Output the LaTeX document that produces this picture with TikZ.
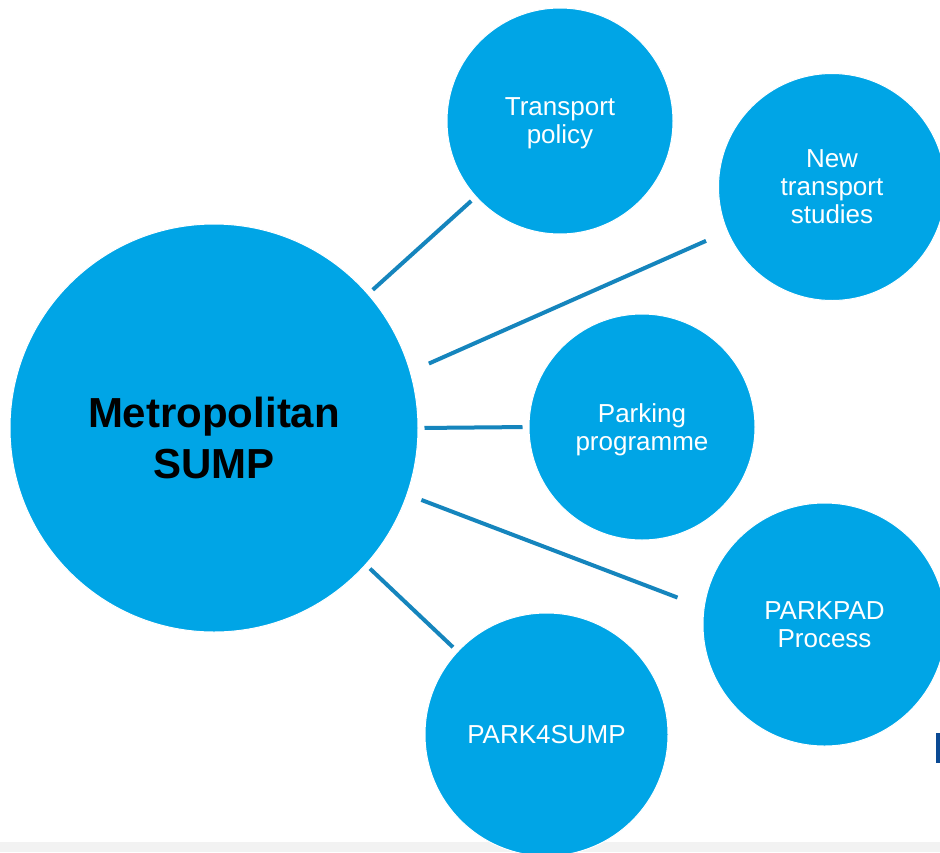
\documentclass[tikz,border=0pt]{standalone}
\usepackage{fontspec}
\setmainfont{Liberation Sans}
\definecolor{bubble}{HTML}{00A5E6}
\definecolor{linkc}{HTML}{1585BD}
\definecolor{band}{HTML}{F2F2F2}
\definecolor{navy}{HTML}{0B4A94}
\tikzset{
  bubblebox/.style={circle, fill=bubble, draw=white, line width=1pt, inner sep=0pt, text=white, align=center, text depth=0pt, font=\fontsize{26}{28}\selectfont},
  conn/.style={draw=linkc, line width=4pt}
}
\begin{document}
\begin{tikzpicture}[x=1pt,y=-1pt]
\useasboundingbox (0,0) rectangle (940,852);
\clip (0,0) rectangle (940,852);
\fill[white] (0,0) rectangle (940,852);
\fill[band] (0,842) rectangle (940,852);
\fill[navy] (936,733) rectangle (941,763);
\node[bubblebox, minimum size=408pt] (main) at (214,428) {};
\node[text=black, align=center, font=\fontsize{42}{51}\selectfont\bfseries] (maintext) at (214,437.5) {Metropolitan\\SUMP};
\node[bubblebox, minimum size=226pt] (tp) at (560,121) {Transport\\policy};
\node[bubblebox, minimum size=227pt] (nts) at (832,187) {New\\transport\\studies};
\node[bubblebox, minimum size=226pt] (pp) at (642,427) {Parking\\programme};
\node[bubblebox, minimum size=243pt] (pad) at (824.5,624.5) {PARKPAD\\Process};
\node[bubblebox, minimum size=243pt] (p4s) at (546.5,734.5) {PARK4SUMP};
\draw[conn, shorten <=6pt, shorten >=6pt] (main.41.7) -- (tp.222);
\draw[conn, shorten <=20pt, shorten >=23pt] (main.16.9) -- (nts.203.7);
\draw[conn, shorten <=6pt, shorten >=6pt] (main.0) -- (pp.180);
\draw[conn, shorten <=15pt, shorten >=28pt] (main.-19.4) -- (pad.172.5);
\draw[conn, shorten <=5.5pt, shorten >=6pt] (main.-42.7) -- (p4s.137.2);
\end{tikzpicture}
\end{document}
